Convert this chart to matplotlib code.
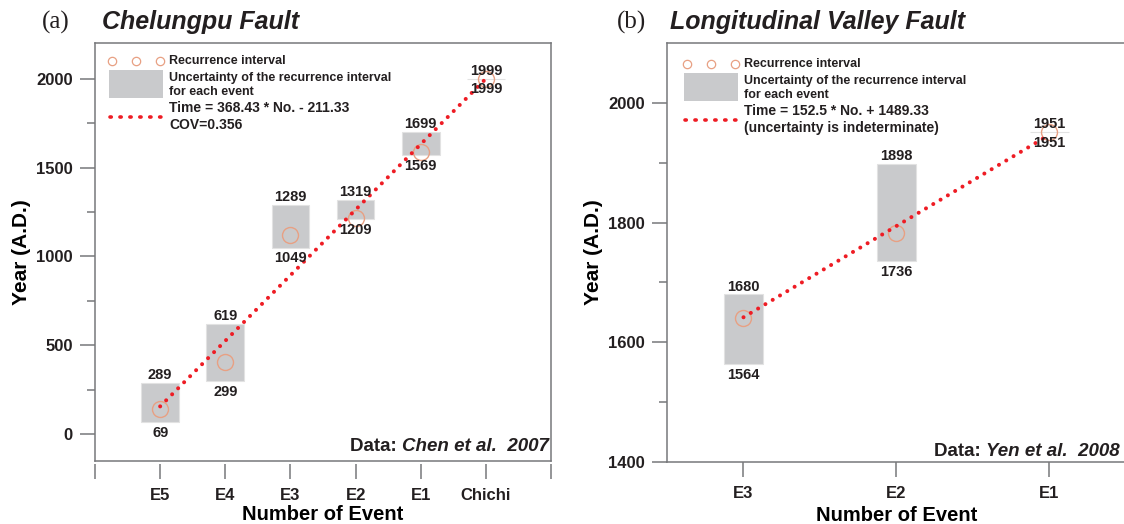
import matplotlib
matplotlib.use('Agg')
import matplotlib.pyplot as plt
from matplotlib.patches import Rectangle
from matplotlib.lines import Line2D

# ---------------- data ----------------
left_events = ['E5', 'E4', 'E3', 'E2', 'E1', 'Chichi']
left_low = [69, 299, 1049, 1209, 1569, 1999]
left_high = [289, 619, 1289, 1319, 1699, 1999]
left_recur = [140, 405, 1120, 1215, 1585, 1999]
left_fit_years = [157.1, 1999.3]          # Time = 368.43 * No. - 211.33 at E5 and Chichi
left_yticks = [0, 500, 1000, 1500, 2000]
left_yminor = [250, 750, 1250, 1750]

right_events = ['E3', 'E2', 'E1']
right_low = [1564, 1736, 1951]
right_high = [1680, 1898, 1951]
right_recur = [1641, 1783, 1951]
right_fit_years = [1641.8, 1946.8]        # Time = 152.5 * No. + 1489.33 at E3 and E1
right_yticks = [1400, 1600, 1800, 2000]
right_yminor = [1500, 1700, 1900]

# ---------------- style ----------------
W, H = 1124, 524
GRAY = '#c9cacc'
RED = '#ee1c24'
CIRC = '#e8a083'
SPINE = '#77787b'
TXT = '#231f20'
plt.rcParams['font.family'] = ['Liberation Sans', 'DejaVu Sans']
plt.rcParams['text.color'] = TXT

fig = plt.figure(figsize=(W / 100, H / 100), dpi=100)


def fx(px):
    return px / W


def fy(py):
    return 1 - py / H


axA = fig.add_axes([fx(95), fy(461), (551 - 95) / W, (461 - 43) / H])
axB = fig.add_axes([fx(667), fy(462), (1126 - 667) / W, (462 - 43) / H])


def draw_panel(ax, events, low, high, recur, fit_years, width):
    pos = list(range(1, len(events) + 1))
    ax.bar(pos, [h - l for h, l in zip(high, low)], bottom=low, width=width,
           color=GRAY, edgecolor='#e2e2e2', linewidth=0.8, zorder=2)
    ax.plot(pos, recur, 'o', ms=11.5, mfc='none', mec=CIRC, mew=1.0, zorder=3)
    ax.plot([pos[0], pos[-1]], fit_years, color=RED, lw=2.9,
            ls=(0, (0.01, 2.1)), dash_capstyle='round', zorder=4)
    for p, l, h in zip(pos, low, high):
        ax.annotate(str(h), (p, h), xytext=(0, 2.8), textcoords='offset points',
                    ha='center', va='baseline', fontsize=10.5, fontweight='bold', zorder=5)
        ax.annotate(str(l), (p, l), xytext=(0, -10.6), textcoords='offset points',
                    ha='center', va='baseline', fontsize=10.5, fontweight='bold', zorder=5)
    for s in ax.spines.values():
        s.set_color(SPINE)
        s.set_linewidth(1.1)
    ax.tick_params(axis='both', which='major', length=10.5, width=1.1, color=SPINE,
                   labelsize=12, labelcolor=TXT)
    ax.tick_params(axis='y', which='major', pad=5.5)
    ax.tick_params(axis='x', which='major', pad=6.5)
    ax.tick_params(axis='y', which='minor', length=6, width=1.1, color=SPINE)
    return pos


# ---- panel (a) ----
posA = draw_panel(axA, left_events, left_low, left_high, left_recur, left_fit_years, 0.58)
axA.set_xlim(0, len(left_events) + 1)
axA.set_ylim(-150, 2200)
axA.set_xticks(range(0, len(left_events) + 2), [''] + left_events + [''])
axA.set_yticks(left_yticks, [str(v) for v in left_yticks])
axA.set_yticks(left_yminor, minor=True)
axA.spines['bottom'].set_position(('outward', 2.5))
axA.spines['bottom'].set_color('none')
axA.plot([0, 1], [0, 0], transform=axA.transAxes, color=SPINE, lw=1.1, clip_on=False, zorder=6)

# ---- panel (b) ----
posB = draw_panel(axB, right_events, right_low, right_high, right_recur, right_fit_years, 0.25)
axB.set_xlim(0.5, len(right_events) + 0.5)
axB.set_ylim(1400, 2100)
axB.set_xticks(posB, right_events)
axB.set_yticks(right_yticks, [str(v) for v in right_yticks])
axB.set_yticks(right_yminor, minor=True)
axB.spines['right'].set_visible(False)

for ax, ylx, left_px, w in ((axA, 22, 95, 456), (axB, 594, 667, 459)):
    for t in ax.get_xticklabels() + ax.get_yticklabels():
        t.set_fontweight('bold')
    ax.set_ylabel('Year (A.D.)', fontsize=15, fontweight='bold', va='center')
    ax.yaxis.set_label_coords((ylx - left_px) / w, 0.5)
    ax.set_xlabel('Number of Event', fontsize=14.5, fontweight='bold', va='center')
    ax.xaxis.set_label_coords(0.5, -(514.5 - 461) / 418)

# ---- titles ----
fig.text(fx(42), fy(29), '(a)', family='Liberation Serif', fontsize=18, va='baseline')
fig.text(fx(102), fy(29), 'Chelungpu Fault', fontsize=18, fontweight='bold',
         fontstyle='italic', va='baseline')
fig.text(fx(617), fy(29), '(b)', family='Liberation Serif', fontsize=18, va='baseline')
fig.text(fx(670), fy(29), 'Longitudinal Valley Fault', fontsize=18, fontweight='bold',
         fontstyle='italic', va='baseline')

# ---- legends ----
def legend(x0, y0, lines3):
    # x0: left of symbol column, y0: circle row
    cx = [x0 + 3, x0 + 27, x0 + 51]
    fig.add_artist(Line2D([fx(c) for c in cx], [fy(y0)] * 3, ls='none', marker='o', ms=6,
                          mfc='none', mec=CIRC, mew=0.9))
    tx = x0 + 60
    fig.text(fx(tx), fy(y0), 'Recurrence interval', fontsize=9, fontweight='bold', va='center')
    fig.add_artist(Rectangle((fx(x0), fy(y0 + 37)), 54 / W, 28 / H, facecolor=GRAY,
                             edgecolor='none', transform=fig.transFigure))
    fig.text(fx(tx), fy(y0 + 17), 'Uncertainty of the recurrence interval', fontsize=9,
             fontweight='bold', va='center')
    fig.text(fx(tx), fy(y0 + 31), 'for each event', fontsize=9, fontweight='bold', va='center')
    fig.add_artist(Line2D([fx(x0 + 1), fx(x0 + 54)], [fy(y0 + 56)] * 2, color=RED, lw=2.6,
                          ls=(0, (0.35, 2.4)), dash_capstyle='round'))
    fig.text(fx(tx), fy(y0 + 47), lines3[0], fontsize=10, fontweight='bold', va='center')
    fig.text(fx(tx), fy(y0 + 64), lines3[1], fontsize=10, fontweight='bold', va='center')


legend(109, 61, ['Time = 368.43 * No. - 211.33', 'COV=0.356'])
legend(684, 64, ['Time = 152.5 * No. + 1489.33', '(uncertainty is indeterminate)'])

# ---- data source ----
renderer = fig.canvas.get_renderer()


def source(x_right, y_base, name):
    t = fig.text(fx(x_right), fy(y_base), name, fontsize=13.5, fontweight='bold',
                 fontstyle='italic', ha='right', va='baseline')
    bb = t.get_window_extent(renderer=renderer)
    fig.text(bb.x0 / W, fy(y_base), 'Data: ', fontsize=13.5, fontweight='bold',
             ha='right', va='baseline')


source(549, 451, 'Chen et al.  2007')
source(1120, 456.5, 'Yen et al.  2008')

fig.savefig('out.png', dpi=100)
